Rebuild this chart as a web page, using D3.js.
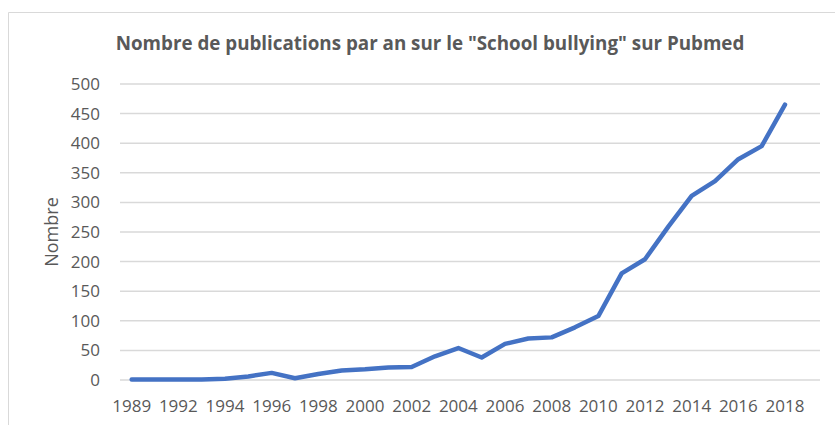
<!DOCTYPE html>
<html>
<head>
<meta charset="utf-8">
<script src="https://cdn.jsdelivr.net/npm/d3@7"></script>
<style>
  body { margin: 0; background: #fff; }
  svg { display: block; font-family: 'Open Sans', sans-serif; }
</style>
</head>
<body>
<svg id="chart"></svg>
<script>
// one year is missing after 1989, and the last slot (2019) is empty
const years = [1989, 1991, 1992, 1993, 1994, 1995, 1996, 1997, 1998, 1999, 2000,
  2001, 2002, 2003, 2004, 2005, 2006, 2007, 2008, 2009, 2010,
  2011, 2012, 2013, 2014, 2015, 2016, 2017, 2018, 2019];
const publications = [1, 1, 1, 1, 2, 6, 12, 3, 10, 16, 18,
  21, 22, 40, 54, 38, 61, 70, 72, 89, 108,
  180, 204, 259, 311, 336, 373, 395, 465, null];
const yTicks = [0, 50, 100, 150, 200, 250, 300, 350, 400, 450, 500];

const width = 835;
const height = 425;
const margin = { top: 84, right: 15, bottom: 45, left: 120 };
const innerWidth = width - margin.left - margin.right;
const innerHeight = height - margin.top - margin.bottom;

const svg = d3.select('#chart')
  .attr('width', width)
  .attr('height', height);

// chart area frame (only top and left visible in the crop)
svg.append('path')
  .attr('d', `M8.5,${height}V12.5H${width}`)
  .attr('fill', 'none')
  .attr('stroke', '#d9d9d9')
  .attr('stroke-width', 1);

const g = svg.append('g')
  .attr('transform', `translate(${margin.left}, ${margin.top})`);

const x = d3.scaleBand()
  .domain(years)
  .range([0, innerWidth]);
const y = d3.scaleLinear()
  .domain([0, 500])
  .range([innerHeight, 0]);

// gridlines
g.append('g')
  .selectAll('line')
  .data(yTicks)
  .enter().append('line')
    .attr('x1', 0)
    .attr('x2', innerWidth)
    .attr('y1', d => y(d))
    .attr('y2', d => y(d))
    .attr('stroke', '#d9d9d9')
    .attr('stroke-width', 1.5);

// y labels
const yAxis = d3.axisLeft(y)
  .tickValues(yTicks)
  .tickSize(0)
  .tickPadding(20);
g.append('g')
  .attr('class', 'axis y')
  .call(yAxis)
  .call(s => s.select('.domain').remove())
  .selectAll('text')
    .attr('font-family', "'Open Sans', sans-serif")
    .attr('font-size', 17)
    .attr('fill', '#595959');

// x labels, every other year
const xAxis = d3.axisBottom(x)
  .tickValues(years.filter((d, i) => i % 2 === 0))
  .tickSize(0)
  .tickPadding(20);
g.append('g')
  .attr('class', 'axis x')
  .attr('transform', `translate(0, ${innerHeight})`)
  .call(xAxis)
  .call(s => s.select('.domain').remove())
  .selectAll('text')
    .attr('font-family', "'Open Sans', sans-serif")
    .attr('font-size', 17)
    .attr('fill', '#595959');

// line
const line = d3.line()
  .defined(d => d.value !== null)
  .x(d => x(d.year) + x.bandwidth() / 2)
  .y(d => y(d.value));

g.append('path')
  .datum(years.map((yr, i) => ({ year: yr, value: publications[i] })))
  .attr('fill', 'none')
  .attr('stroke', '#4472c4')
  .attr('stroke-width', 4.5)
  .attr('stroke-linejoin', 'round')
  .attr('stroke-linecap', 'round')
  .attr('d', line);

// title
svg.append('text')
  .attr('x', 430)
  .attr('y', 50)
  .attr('text-anchor', 'middle')
  .attr('font-size', 18.8)
  .attr('font-weight', 'bold')
  .attr('fill', '#595959')
  .text('Nombre de publications par an sur le "School bullying" sur Pubmed');

// y axis title
svg.append('text')
  .attr('transform', 'translate(58, 232) rotate(-90)')
  .attr('text-anchor', 'middle')
  .attr('font-size', 18)
  .attr('fill', '#595959')
  .text('Nombre');
</script>
</body>
</html>
